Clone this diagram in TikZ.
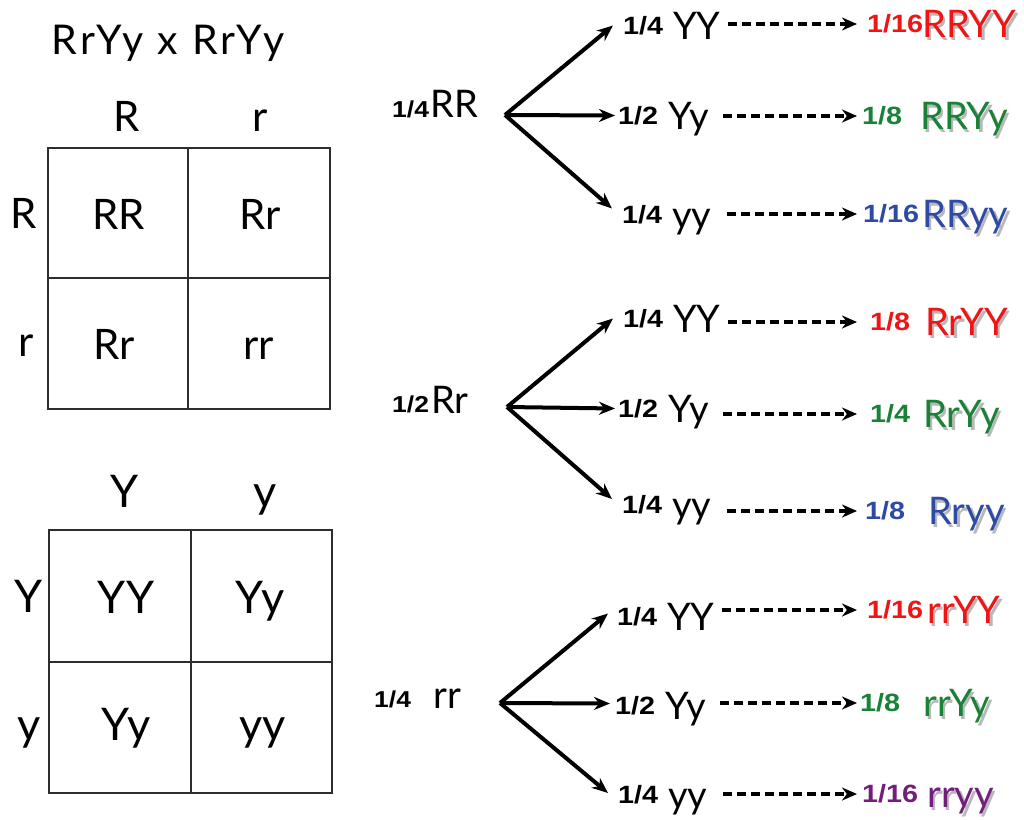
\documentclass[tikz,border=0pt]{standalone}
\usepackage{fontspec}
\setmainfont{Lato}
\newfontfamily\fracfont{Liberation Sans Bold}[FakeStretch=1.15]
\usetikzlibrary{arrows.meta,calc}
\definecolor{cred}{RGB}{240,20,20}
\definecolor{cgreen}{RGB}{25,130,55}
\definecolor{cblue}{RGB}{45,75,165}
\definecolor{cpurple}{RGB}{115,30,125}
\definecolor{cgrid}{RGB}{45,45,45}
\newcommand\shtext[1]{\makebox[0pt][l]{\hspace{2.5pt}\raisebox{-3pt}{\textcolor{black!28}{#1}}}#1}
\begin{document}
\begin{tikzpicture}[x=1pt,y=-1pt,
  tab/.style={font=\fontsize{42}{42}\selectfont, inner sep=0pt, anchor=base},
  tabb/.style={font=\fontsize{45}{45}\selectfont, inner sep=0pt, anchor=base},
  gridline/.style={draw=cgrid, line width=2pt},
  fr/.style={font=\fracfont\fontsize{25}{25}\selectfont, inner sep=0pt, text height=17.5pt, text depth=0pt, anchor=west},
  srcfr/.style={font=\fracfont\fontsize{23}{23}\selectfont, inner sep=0pt, anchor=base west},
  src/.style={font=\fontsize{38}{38}\selectfont, inner sep=0pt, anchor=base west},
  lab/.style={font=\fontsize{38}{38}\selectfont, inner sep=0pt, text height=27pt, text depth=0pt, anchor=west, text width=48pt, align=left},
  res/.style={font=\fontsize{38}{38}\selectfont, inner sep=0pt, text height=27pt, text depth=0pt, anchor=west},
  solidarr/.style={line width=4pt, -{Stealth[length=16pt,width=13pt]}},
  dasharr/.style={line width=3.4pt, dash pattern=on 9pt off 5pt, -{Stealth[length=15pt,width=13pt]}}
]
\useasboundingbox (0,0) rectangle (1024,819);
\fill[white] (0,0) rectangle (1024,819);

% ---- top Punnett square
\node[tab, font=\fontsize{41}{41}\selectfont\addfontfeature{LetterSpace=8}] (title) at (168,54) {RrYy x RrYy};
\draw[gridline] (48,148) rectangle (330,409);
\draw[gridline] (188,148) -- (188,409);
\draw[gridline] (48,278) -- (330,278);
\node[tab] (hR) at (126.5,131) {R};
\node[tab] (hr) at (260,131) {r};
\node[tab] (vR) at (23.5,228) {R};
\node[tab] (vr) at (26.5,356) {r};
\node[tab] (cRR) at (118.5,229) {RR};
\node[tab] (cRra) at (260,229) {Rr};
\node[tab] (cRrb) at (114.5,359) {Rr};
\node[tab] (crr) at (258.5,359) {rr};

% ---- bottom Punnett square
\draw[gridline] (49,530) rectangle (332,793);
\draw[gridline] (191,530) -- (191,793);
\draw[gridline] (49,662) -- (332,662);
\node[tabb] (hY) at (124.5,507) {Y};
\node[tabb] (hy) at (265,507) {y};
\node[tabb] (vY) at (28.5,612) {Y};
\node[tabb] (vy) at (29,740) {y};
\node[tabb] (cYY) at (126,613) {YY};
\node[tabb] (cYya) at (260,613) {Yy};
\node[tabb] (cYyb) at (126,740) {Yy};
\node[tabb] (cyy) at (262.5,740) {yy};

% ---- sources
\coordinate (oa) at (505,115);
\coordinate (ob) at (507,407);
\coordinate (oc) at (500,703);
\node[srcfr] (saf) at (392,117) {1/4};
\node[src] (sag) at (430,117) {RR};
\node[srcfr] (sbf) at (392,412) {1/2};
\node[src] (sbg) at (431,413) {Rr};
\node[srcfr] (scf) at (374,707) {1/4};
\node[src] (scg) at (433,708) {rr};

% ---- branches
\foreach \g/\k/\fx/\ly/\fa/\fb/\lgt/\ax/\ay/\pad/\ry/\ra/\rb/\rgx/\rgt/\col in {
 a/1/623/25.5/1/4/YY/-10/0/10/24/1/16/922/RRYY/cred,
 a/2/618/115.5/1/2/Yy/-3/0/5/116/1/8/920/RRYy/cgreen,
 a/3/622/214.5/1/4/yy/-10/-6/6/214/1/16/922/RRyy/cblue,
 b/1/623/318.5/1/4/YY/-10/0/13/322/1/8/925/RrYY/cred,
 b/2/618/408.5/1/2/Yy/-3/0/13/414/1/4/923/RrYy/cgreen,
 b/3/622/505/1/4/yy/-10/-6/8/511/1/8/928/Rryy/cblue,
 c/1/617/616.5/1/4/YY/-9/-3/10/610/1/16/927/rrYY/cred,
 c/2/615/705.5/1/2/Yy/-5/-2/3/703/1/8/923/rrYy/cgreen,
 c/3/618/795/1/4/yy/-10/-2/5/794/1/16/927/rryy/cpurple}
{
 \node[fr] (lf\g\k) at (\fx,\ly) {\fa/\fb};
 \node[lab] (lg\g\k) at (\fx+50,\ly) {\lgt};
 \node[fr, inner xsep=\pad pt, text=\col] (rf\g\k) at (857,\ry) {\ra/\rb};
 \node[res, text=\col] (rg\g\k) at (\rgx,\ry) {\shtext{\rgt}};
 \draw[solidarr] (o\g) -- ($(lf\g\k.west)+(\ax,\ay)$);
 \draw[dasharr] ($(lg\g\k.east |- rf\g\k.west)+(7,0)$) -- (rf\g\k.west);
}
\end{tikzpicture}
\end{document}
